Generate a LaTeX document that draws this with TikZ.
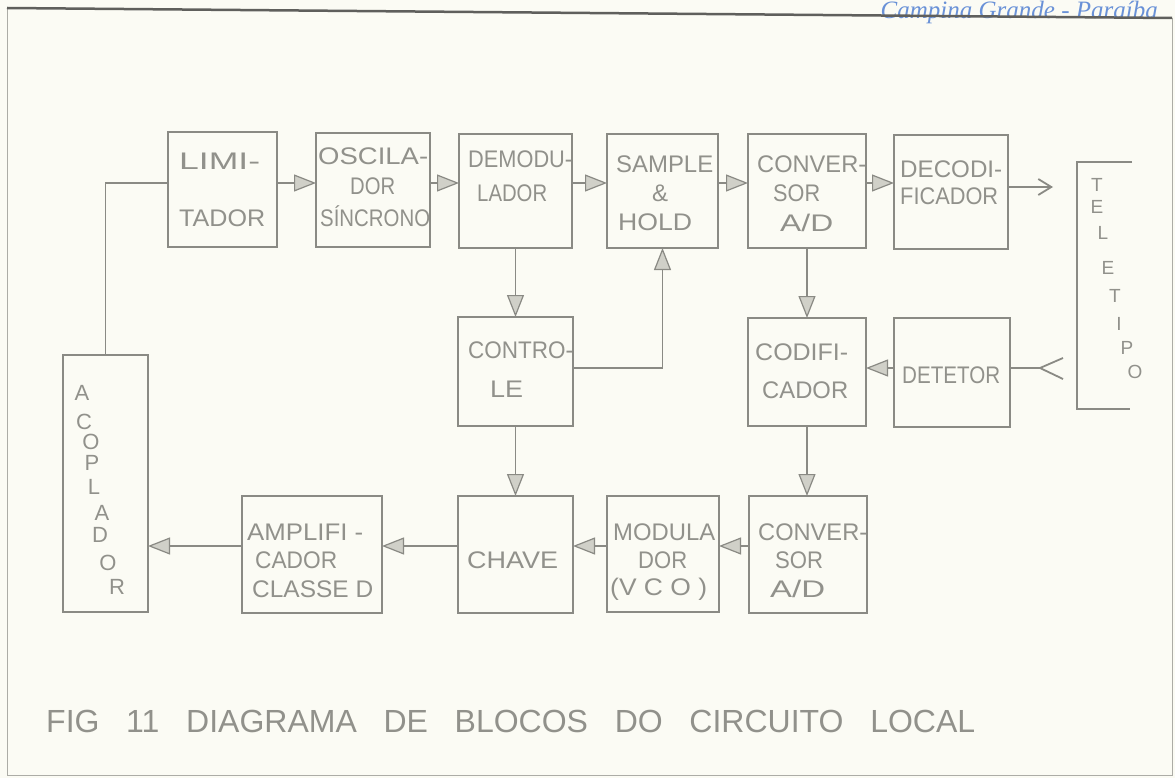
\documentclass[tikz,border=0pt]{standalone}
\usepackage{fontspec}
\setmainfont{Liberation Sans}
\newfontfamily\stampfont{Liberation Serif}
\usetikzlibrary{arrows.meta}
\definecolor{bg}{RGB}{251,251,244}
\definecolor{lc}{RGB}{138,138,132}
\definecolor{tc}{RGB}{145,145,139}
\definecolor{hf}{RGB}{208,208,200}
\definecolor{fr}{RGB}{95,95,92}
\definecolor{fs}{RGB}{172,172,166}
\definecolor{stampc}{RGB}{105,145,215}
\newcommand\lw[2]{\resizebox{#1pt}{\height}{#2}}
\newcommand\mkblk[5]{\node[blk, minimum width={(#4-#2)*1pt}, minimum height={(#5-#3)*1pt}] (#1) at ({(#2+#4)/2},{(#3+#5)/2}) {};}
\begin{document}
\begin{tikzpicture}[x=1pt,y=-1pt,
  blk/.style={draw=lc, line width=2pt, rectangle, inner sep=0pt, outer sep=0pt},
  lbl/.style={text=tc, inner sep=0pt, anchor=base west, font=\fontsize{24}{28}\selectfont},
  vl/.style={text=tc, inner sep=0pt, anchor=center, text height=15pt, text depth=0pt, font=\fontsize{22}{24}\selectfont},
  tl/.style={text=tc, inner sep=0pt, anchor=center, text height=13pt, text depth=0pt, font=\fontsize{19}{22}\selectfont},
  wire/.style={draw=lc, line width=1.8pt},
  arr/.style={wire, -{Triangle[length=22pt,width=17pt,fill=hf,line width=1.2pt]}},
  barb/.style={wire, -{Straight Barb[length=13pt,width=16pt]}}
]
\useasboundingbox (0,0) rectangle (1175,778);
\fill[bg] (0,0) rectangle (1175,778);
\clip (0,0) rectangle (1175,778);

% frame
\coordinate (ftl) at (7,8);
\coordinate (ftr) at (1172,18);
\coordinate (fbr) at (1172,775);
\coordinate (fbl) at (7,775);
\draw[fs, line width=1pt] (ftl) -- (fbl) -- (fbr) -- (ftr);

% stamp
\node[text=stampc, inner sep=0pt, anchor=base east, font=\stampfont\itshape\fontsize{25}{28}\selectfont] (stamp) at (1158,19) {Campina Grande - Paraíba};
\draw[fr, line width=2.5pt] (ftl) -- (ftr);

% blocks
\mkblk{lim}{168}{132}{277}{247}
\mkblk{osc}{316}{133}{430}{247}
\mkblk{dem}{459}{134}{572}{248}
\mkblk{sam}{607}{134}{718}{248}
\mkblk{cvA}{748}{134}{866}{248}
\mkblk{dec}{894}{135}{1008}{249}
\mkblk{ctl}{458}{317}{573}{426}
\mkblk{cod}{748}{318}{866}{426}
\mkblk{det}{894}{318}{1010}{427}
\mkblk{aco}{63}{355}{148}{612}
\mkblk{amp}{242}{496}{382}{613}
\mkblk{chv}{458}{496}{573}{613}
\mkblk{mod}{607}{496}{719}{612}
\mkblk{cvB}{749}{496}{867}{613}

% teletipo bracket
\coordinate (tt1) at (1132,162);
\coordinate (tt2) at (1077,162);
\coordinate (tt3) at (1077,409);
\coordinate (tt4) at (1130,409);
\draw[blk] (tt1) -- (tt2) -- (tt3) -- (tt4);

% block texts
\node[lbl] (tlimA) at (179,170) {\lw{81}{LIMI-}};
\node[lbl] (tlimB) at (179,226) {\lw{86}{TADOR}};
\node[lbl] (toscA) at (318,165) {\lw{110}{OSCILA-}};
\node[lbl] (toscB) at (350,195) {\lw{45}{DOR}};
\node[lbl] (toscC) at (320,226) {\lw{110}{SÍNCRONO}};
\node[lbl] (tdemA) at (468,168) {\lw{104}{DEMODU-}};
\node[lbl] (tdemB) at (477,202) {\lw{70}{LADOR}};
\node[lbl] (tsamA) at (616,173) {\lw{97}{SAMPLE}};
\node[lbl, anchor=base] (tsamB) at (660,202) {\&};
\node[lbl] (tsamC) at (618,230) {\lw{74}{HOLD}};
\node[lbl] (tcvAa) at (757,173) {\lw{109}{CONVER-}};
\node[lbl] (tcvAb) at (773,202) {\lw{47}{SOR}};
\node[lbl] (tcvAc) at (780,232) {\lw{53}{A/D}};
\node[lbl] (tdecA) at (900,178) {\lw{102}{DECODI-}};
\node[lbl] (tdecB) at (900,205) {\lw{98}{FICADOR}};
\node[lbl] (tctlA) at (468,358) {\lw{105}{CONTRO-}};
\node[lbl] (tctlB) at (490,397) {\lw{33}{LE}};
\node[lbl] (tcodA) at (755,360) {\lw{93}{CODIFI-}};
\node[lbl] (tcodB) at (762,398) {\lw{86}{CADOR}};
\node[lbl] (tdet) at (902,383) {\lw{98}{DETETOR}};
\node[lbl] (tampA) at (247,540) {\lw{116}{AMPLIFI -}};
\node[lbl] (tampB) at (255,568) {\lw{82}{CADOR}};
\node[lbl] (tampC) at (252,597) {\lw{121}{CLASSE D}};
\node[lbl] (tchv) at (467,568) {\lw{91}{CHAVE}};
\node[lbl] (tmodA) at (613,540) {\lw{102}{MODULA}};
\node[lbl] (tmodB) at (638,568) {\lw{49}{DOR}};
\node[lbl] (tmodC) at (610,595) {\lw{97}{(V C O )}};
\node[lbl] (tcvBa) at (758,540) {\lw{109}{CONVER-}};
\node[lbl] (tcvBb) at (775,568) {\lw{48}{SOR}};
\node[lbl] (tcvBc) at (770,597) {\lw{55}{A/D}};

% ACOPLADOR (vertical)
\node[vl] (ac1) at (82,393) {A};
\node[vl] (ac2) at (84,422) {C};
\node[vl] (ac3) at (91,442) {O};
\node[vl] (ac4) at (92,463) {P};
\node[vl] (ac5) at (94,487) {L};
\node[vl] (ac6) at (102,513) {A};
\node[vl] (ac7) at (100,535) {D};
\node[vl] (ac8) at (108,563) {O};
\node[vl] (ac9) at (117,587) {R};

% TELETIPO (vertical)
\node[tl] (te1) at (1097,185) {T};
\node[tl] (te2) at (1097,207) {E};
\node[tl] (te3) at (1103,233) {L};
\node[tl] (te4) at (1108,268) {E};
\node[tl] (te5) at (1115,296) {T};
\node[tl] (te6) at (1119,324) {I};
\node[tl] (te7) at (1127,348) {P};
\node[tl] (te8) at (1135,372) {O};

% row levels
\coordinate (r1) at (0,183);
\coordinate (r2) at (0,368);
\coordinate (r3) at (0,546);

% connectors, top row
\draw[wire] (aco.north) -- (aco.north |- r1) -- (lim.west |- r1);
\draw[arr] (lim.east |- r1) -- (osc.west |- r1);
\draw[arr] (osc.east |- r1) -- (dem.west |- r1);
\draw[arr] (dem.east |- r1) -- (sam.west |- r1);
\draw[arr] (sam.east |- r1) -- (cvA.west |- r1);
\draw[arr] (cvA.east |- r1) -- (dec.west |- r1);
\coordinate (telin) at (1053,187);
\draw[barb] (dec.east |- telin) -- (telin);

% verticals
\draw[arr] (dem.south) -- (ctl.north);
\draw[arr] (ctl.east |- r2) -- (sam.south |- r2) -- (sam.south);
\draw[arr] (ctl.south) -- (chv.north);
\draw[arr] (cvA.south) -- (cod.north);
\draw[arr] (cod.south) -- (cod.south |- cvB.north);

% middle row
\draw[arr] (det.west |- r2) -- (cod.east |- r2);
\coordinate (tv) at (1040,368);
\coordinate (ta) at (1063,358);
\coordinate (tb) at (1063,379);
\draw[wire] (det.east |- tv) -- (tv);
\draw[wire] (ta) -- (tv) -- (tb);

% bottom row
\draw[arr] (cvB.west |- r3) -- (mod.east |- r3);
\draw[arr] (mod.west |- r3) -- (chv.east |- r3);
\draw[arr] (chv.west |- r3) -- (amp.east |- r3);
\draw[arr] (amp.west |- r3) -- (aco.east |- r3);

% caption
\node[lbl, font=\fontsize{32}{36}\selectfont] (cap) at (46,732) {\makebox[929pt][s]{FIG 11 DIAGRAMA DE BLOCOS DO CIRCUITO LOCAL}};
\end{tikzpicture}
\end{document}
